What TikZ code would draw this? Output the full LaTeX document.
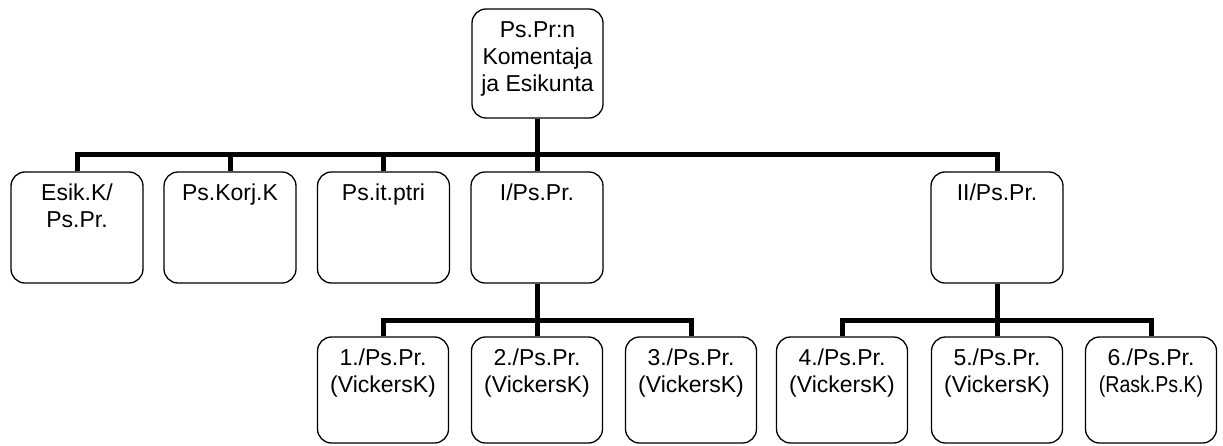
\documentclass[tikz,border=0pt]{standalone}
\usepackage{fontspec}
\setmainfont{Liberation Sans}
\tikzset{
  box/.style={draw, line width=1.3pt, rounded corners=14pt, minimum width=131pt, inner sep=0pt},
  topbox/.style={box, minimum height=109pt},
  lonebox/.style={box, minimum width=132pt, minimum height=111pt},
  ltwobox/.style={box, minimum height=106pt},
  txt/.style={anchor=north, align=center, inner sep=0pt, font=\fontsize{23}{27}\selectfont},
  conn/.style={line width=5pt, line join=miter}
}
\newcommand{\firstline}{\rule{0pt}{18pt}}
\begin{document}
\begin{tikzpicture}[x=1pt,y=-1pt]
\useasboundingbox (0,0) rectangle (1223,445);
\coordinate (bus1) at (0,154);
\coordinate (bus2) at (0,320);
% boxes
\node[topbox] (top) at (537.5,63.5) {};
\node[lonebox] (esik) at (77,227.5) {};
\node[lonebox] (korj) at (230,227.5) {};
\node[lonebox] (itp) at (383.5,227.5) {};
\node[lonebox] (one) at (537,227.5) {};
\node[lonebox] (two) at (997,227.5) {};
\node[ltwobox] (n1) at (383,390) {};
\node[ltwobox] (n2) at (537,390) {};
\node[ltwobox] (n3) at (691,390) {};
\node[ltwobox] (n4) at (842,390) {};
\node[ltwobox] (n5) at (997,390) {};
\node[ltwobox] (n6) at (1151,390) {};
% texts
\node[txt] (topt) at ([yshift=-10.5pt]top.north) {\firstline Ps.Pr:n\\Komentaja\\ja Esikunta};
\node[txt] (esikt) at ([yshift=-10.5pt]esik.north) {\firstline Esik.K/\\Ps.Pr.};
\node[txt] (korjt) at ([yshift=-10.5pt]korj.north) {\firstline Ps.Korj.K};
\node[txt] (itpt) at ([yshift=-10.5pt]itp.north) {\firstline Ps.it.ptri};
\node[txt] (onet) at ([yshift=-10.5pt]one.north) {\firstline I/Ps.Pr.};
\node[txt] (twot) at ([yshift=-10.5pt]two.north) {\firstline II/Ps.Pr.};
\node[txt] (n1t) at ([yshift=-10.5pt]n1.north) {\firstline 1./Ps.Pr.\\(VickersK)};
\node[txt] (n2t) at ([yshift=-10.5pt]n2.north) {\firstline 2./Ps.Pr.\\(VickersK)};
\node[txt] (n3t) at ([yshift=-10.5pt]n3.north) {\firstline 3./Ps.Pr.\\(VickersK)};
\node[txt] (n4t) at ([yshift=-10.5pt]n4.north) {\firstline 4./Ps.Pr.\\(VickersK)};
\node[txt] (n5t) at ([yshift=-10.5pt]n5.north) {\firstline 5./Ps.Pr.\\(VickersK)};
\node[txt] (n6t) at ([yshift=-10.5pt]n6.north) {\firstline 6./Ps.Pr.\\\scalebox{0.85}[1]{(Rask.Ps.K)}};
% connectors
\draw[conn] (top.south) -- (top.south |- bus1);
\draw[conn] (esik.north) -- (esik.north |- bus1) -- (two.north |- bus1) -- (two.north);
\draw[conn] (korj.north) -- (korj.north |- bus1);
\draw[conn] (itp.north) -- (itp.north |- bus1);
\draw[conn] (one.north) -- (one.north |- bus1);
\draw[conn] (one.south) -- (one.south |- bus2);
\draw[conn] (n1.north) -- (n1.north |- bus2) -- (n3.north |- bus2) -- (n3.north);
\draw[conn] (n2.north) -- (n2.north |- bus2);
\draw[conn] (two.south) -- (two.south |- bus2);
\draw[conn] (n4.north) -- (n4.north |- bus2) -- (n6.north |- bus2) -- (n6.north);
\draw[conn] (n5.north) -- (n5.north |- bus2);
\end{tikzpicture}
\end{document}
